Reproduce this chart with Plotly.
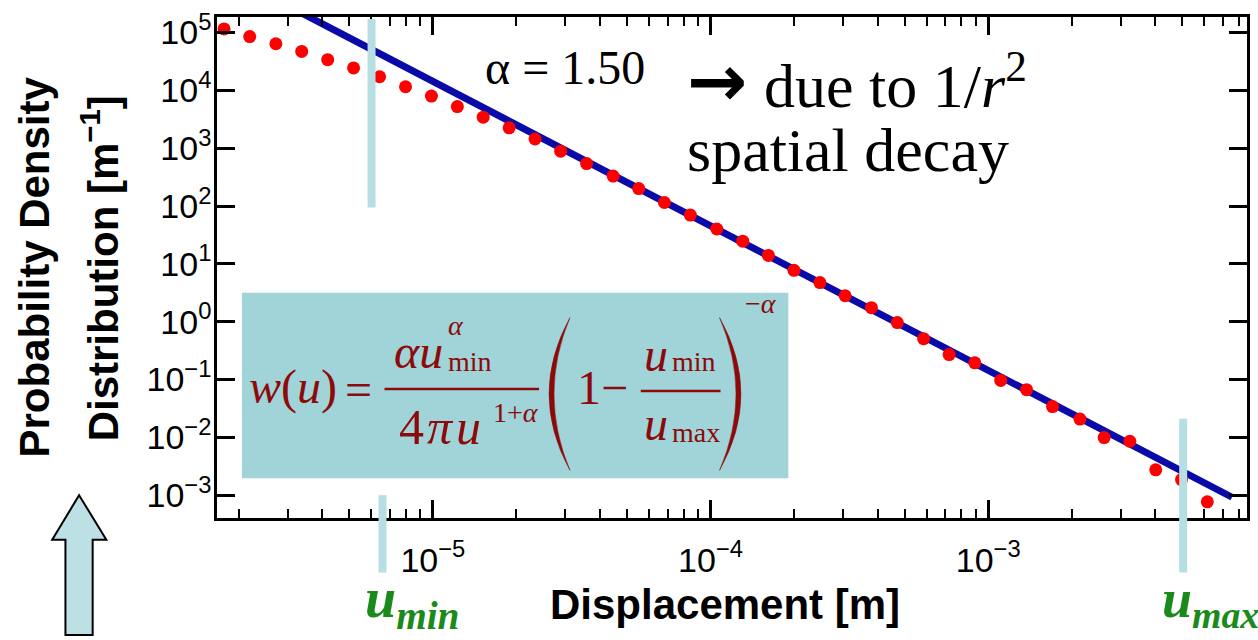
import plotly.graph_objects as go

# ---------------- data ----------------
displacement = [1.77e-6, 2.19e-6, 2.72e-6, 3.37e-6, 4.18e-6, 5.18e-6, 6.43e-6, 7.97e-6,
                9.88e-6, 1.225e-5, 1.518e-5, 1.882e-5, 2.333e-5, 2.886e-5, 3.578e-5,
                4.458e-5, 5.512e-5, 6.82e-5, 8.455e-5, 1.053e-4, 1.306e-4, 1.615e-4,
                1.997e-4, 2.476e-4, 3.052e-4, 3.795e-4, 4.705e-4, 5.852e-4, 7.229e-4,
                8.944e-4, 1.109e-3, 1.374e-3, 1.704e-3, 2.139e-3, 2.614e-3, 3.235e-3,
                4.01e-3, 4.965e-3, 6.15e-3]
density = [1.156e5, 8.53e4, 6.40e4, 4.72e4, 3.40e4, 2.45e4, 1.72e4, 1.156e4, 7.98e3,
           5.25e3, 3.44e3, 2.25e3, 1.442e3, 887, 543, 330, 200, 115, 69.7, 40.1, 24.7,
           14.0, 7.74, 4.75, 2.81, 1.75, 0.966, 0.508, 0.270, 0.194, 0.0966, 0.0667,
           0.0340, 0.0207, 0.00989, 0.00855, 0.00274, 0.00186, 0.000766]
fit_x = [3.3e-6, 7.55e-3]
fit_y = [2.29e5, 9.2e-4]

y_tick_vals = [1e-3, 1e-2, 1e-1, 1e0, 1e1, 1e2, 1e3, 1e4, 1e5]
y_tick_text = ["10<sup>−3</sup>", "10<sup>−2</sup>", "10<sup>−1</sup>", "10<sup>0</sup>",
               "10<sup>1</sup>", "10<sup>2</sup>", "10<sup>3</sup>", "10<sup>4</sup>",
               "10<sup>5</sup>"]
x_tick_vals = [1e-5, 1e-4, 1e-3]
x_tick_text = ["10<sup>−5</sup>", "10<sup>−4</sup>", "10<sup>−3</sup>"]

x_range_log = [-5.7774, -2.0682]
y_range_log = [-3.395, 5.269]

# ---------------- layout geometry helpers ----------------
W, H = 1258, 640
L, R, T, B = 217, 8, 13, 122
PW, PH = W - L - R, H - T - B


def px(x):
    return (x - L) / PW


def py(y):
    return (H - B - y) / PH


fig = go.Figure()
fig.add_trace(go.Scatter(x=fit_x, y=fit_y, mode="lines",
                         line=dict(color="#0A0AA8", width=7), hoverinfo="skip"))
fig.add_trace(go.Scatter(x=displacement, y=density, mode="markers",
                         marker=dict(color="#FF0000", size=13, line=dict(width=0))))

axis_common = dict(showgrid=False, zeroline=False, showline=True, linewidth=2.5,
                   linecolor="black", mirror="allticks", ticks="inside",
                   tickwidth=2.5, tickcolor="black",
                   tickfont=dict(family="Liberation Sans", size=34, color="black"))

fig.update_xaxes(type="log", range=x_range_log, tickmode="array", tickvals=x_tick_vals,
                 ticktext=x_tick_text, ticklen=18, ticklabelstandoff=10,
                 minor=dict(ticks="inside", ticklen=9, tickwidth=2, tickcolor="black",
                            dtick="D1", showgrid=False),
                 **axis_common)
fig.update_yaxes(type="log", range=y_range_log, tickmode="array", tickvals=y_tick_vals,
                 ticktext=y_tick_text, ticklen=18, ticklabelstandoff=-4, **axis_common)

shapes = []
ann = []

# formula box
shapes.append(dict(type="rect", xref="paper", yref="paper", x0=px(242), x1=px(790),
                   y0=py(478), y1=py(291), fillcolor="#A0D4D8", line=dict(width=0),
                   layer="above"))

# light cyan marker bars for u_min / u_max
cyan = "#B7DEE2"
for (xc, y0, y1) in [(372, 15, 205), (383, 495, 573), (1186, 418, 573)]:
    shapes.append(dict(type="rect", xref="paper", yref="paper", x0=px(xc - 4), x1=px(xc + 4),
                       y0=py(y1), y1=py(y0), fillcolor=cyan, line=dict(width=0),
                       layer="above"))

# up arrow at bottom-left
arrow_pts = [(78.7, 495), (106, 540), (92.3, 540), (92.3, 636), (65, 636), (65, 540), (51.7, 540)]
path = "M " + " L ".join(f"{px(a):.5f},{py(b):.5f}" for a, b in arrow_pts) + " Z"
shapes.append(dict(type="path", xref="paper", yref="paper", path=path,
                   fillcolor="#BCE0E3", line=dict(color="black", width=2), layer="above"))

# formula drawing elements
red = "#8C0A0A"
for (x0, x1, yy) in [(385, 540, 388), (642, 722, 390)]:
    shapes.append(dict(type="line", xref="paper", yref="paper", x0=px(x0), x1=px(x1),
                       y0=py(yy), y1=py(yy), line=dict(color=red, width=2.5), layer="above"))


def paren(xe, cout, cin, top=316, bot=470):
    mid = (top + bot) / 2
    return (f"M {px(xe):.5f},{py(top):.5f} Q {px(cout):.5f},{py(mid):.5f} {px(xe):.5f},{py(bot):.5f} "
            f"Q {px(cin):.5f},{py(mid):.5f} {px(xe):.5f},{py(top):.5f} Z")


shapes.append(dict(type="path", xref="paper", yref="paper", path=paren(571, 529, 539),
                   fillcolor=red, line=dict(color=red, width=0.5), layer="above"))
shapes.append(dict(type="path", xref="paper", yref="paper", path=paren(721, 764, 754),
                   fillcolor=red, line=dict(color=red, width=0.5), layer="above"))


def text(x, y, s, size, color="black", family="Liberation Serif", xanchor="left",
         yanchor="middle", angle=0):
    ann.append(dict(xref="paper", yref="paper", x=px(x), y=py(y), text=s, showarrow=False,
                    xanchor=xanchor, yanchor=yanchor, textangle=angle,
                    font=dict(family=family, size=size, color=color)))


# formula text
text(247, 386, "<i>w</i>(<i>u</i>)", 48, red)
text(343, 388, "=", 48, red)
text(393, 350, "<i>αu</i>", 48, red)
text(447, 324, "<i>α</i>", 28, red)
text(447, 360, "min", 28, red)
text(398, 426, "4", 50, red)
text(426, 426, "<i>π</i>", 50, red)
text(455, 426, "<i>u</i>", 50, red)
text(492, 412, "1+<i>α</i>", 28, red)
text(576, 386, "1−", 48, red)
text(643, 353, "<i>u</i>", 48, red)
text(671, 360, "min", 28, red)
text(643, 423, "<i>u</i>", 48, red)
text(671, 432, "max", 28, red)
text(745, 302, "−<i>α</i>", 28, red)

# chart annotations
text(484, 64, "α = 1.50", 48)
text(686, 78, "<b>→</b>", 72, family="DejaVu Sans")
text(764, 78, "due to 1/<i>r</i><sup>2</sup>", 62)
text(686, 147, "spatial decay", 62)

# green u_min / u_max labels
green = "#1A8A1A"
text(363, 603, "<b><i>u</i></b><sub><b><i>min</i></b></sub>", 56, green)
text(1163, 603, "<b><i>u</i></b><sub><b><i>max</i></b></sub>", 54, green)

# axis titles
text(726, 605, "<b>Displacement [m]</b>", 42, family="Liberation Sans", xanchor="center")
text(33, 265, "<b>Probability Density</b>", 42, family="Liberation Sans",
     xanchor="center", angle=-90)
text(100, 266, "<b>Distribution [m<sup>−1</sup>]</b>", 42, family="Liberation Sans",
     xanchor="center", angle=-90)

fig.update_layout(width=W, height=H, margin=dict(l=L, r=R, t=T, b=B, pad=0),
                  paper_bgcolor="white", plot_bgcolor="white", showlegend=False,
                  shapes=shapes, annotations=ann)

fig.write_html("out.html")
